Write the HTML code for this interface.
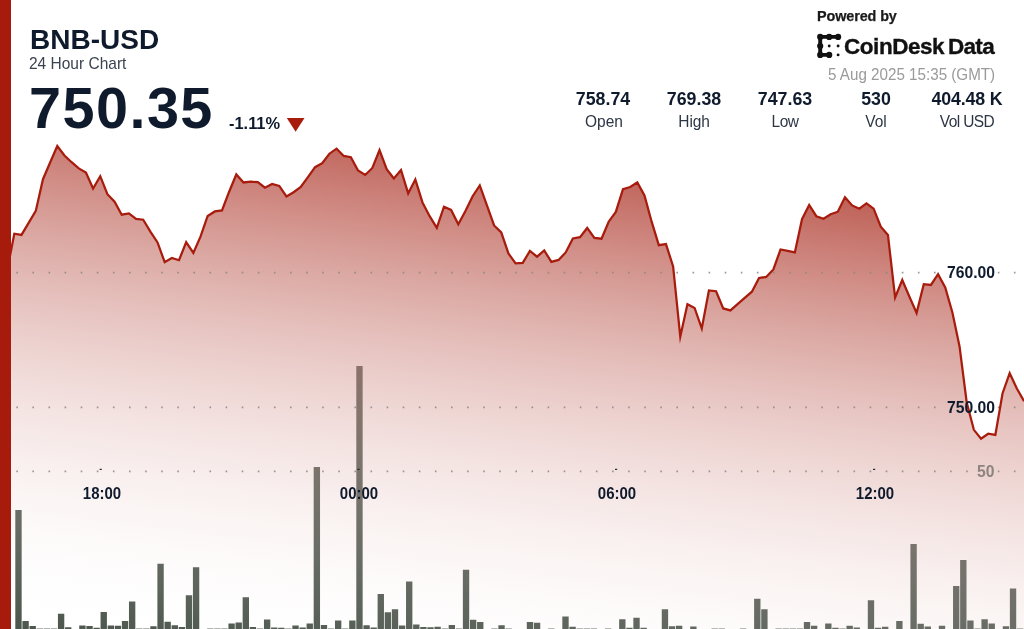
<!DOCTYPE html>
<html><head><meta charset="utf-8"><title>BNB-USD 24 Hour Chart</title>
<style>
html,body{margin:0;padding:0;background:#fff;}
body{width:1024px;height:629px;overflow:hidden;position:relative;font-family:"Liberation Sans",sans-serif;}
#chart{position:absolute;left:0;top:0;width:1024px;height:629px;display:block;}
.t{position:absolute;white-space:nowrap;line-height:1;color:#0f1b2d;transform-origin:50% 84.65%;will-change:transform;}
.b{font-weight:bold;}

#leftbar{position:absolute;left:0;top:0;width:10.7px;height:629px;background:#a61b0c;}
</style></head><body>
<svg id="chart" width="1024" height="629" viewBox="0 0 1024 629">
<defs>
<linearGradient id="g" gradientUnits="userSpaceOnUse" x1="512.00" y1="64.00" x2="434.83" y2="681.35">
<stop offset="0" stop-color="rgb(162,28,14)" stop-opacity="0.96"/>
<stop offset="1" stop-color="rgb(255,255,255)" stop-opacity="0"/>
</linearGradient>
</defs>
<g fill="#4c564d">
<rect x="15.31" y="510.00" width="6.35" height="120.00"/>
<rect x="22.41" y="621.00" width="6.35" height="9.00"/>
<rect x="29.52" y="626.00" width="6.35" height="4.00"/>
<rect x="36.62" y="628.55" width="6.35" height="1.45"/>
<rect x="43.72" y="628.55" width="6.35" height="1.45"/>
<rect x="50.83" y="628.55" width="6.35" height="1.45"/>
<rect x="57.93" y="613.75" width="6.35" height="16.25"/>
<rect x="65.04" y="627.25" width="6.35" height="2.75"/>
<rect x="79.24" y="625.50" width="6.35" height="4.50"/>
<rect x="86.35" y="626.00" width="6.35" height="4.00"/>
<rect x="93.45" y="627.75" width="6.35" height="2.25"/>
<rect x="100.56" y="612.00" width="6.35" height="18.00"/>
<rect x="107.66" y="625.50" width="6.35" height="4.50"/>
<rect x="114.76" y="625.75" width="6.35" height="4.25"/>
<rect x="121.87" y="621.00" width="6.35" height="9.00"/>
<rect x="128.97" y="601.50" width="6.35" height="28.50"/>
<rect x="136.08" y="628.55" width="6.35" height="1.45"/>
<rect x="143.18" y="628.55" width="6.35" height="1.45"/>
<rect x="150.28" y="626.25" width="6.35" height="3.75"/>
<rect x="157.39" y="563.75" width="6.35" height="66.25"/>
<rect x="164.49" y="621.75" width="6.35" height="8.25"/>
<rect x="171.60" y="625.25" width="6.35" height="4.75"/>
<rect x="178.70" y="627.00" width="6.35" height="3.00"/>
<rect x="185.80" y="595.25" width="6.35" height="34.75"/>
<rect x="192.91" y="567.25" width="6.35" height="62.75"/>
<rect x="207.12" y="628.55" width="6.35" height="1.45"/>
<rect x="214.22" y="628.55" width="6.35" height="1.45"/>
<rect x="221.32" y="628.55" width="6.35" height="1.45"/>
<rect x="228.43" y="623.50" width="6.35" height="6.50"/>
<rect x="235.53" y="622.50" width="6.35" height="7.50"/>
<rect x="242.64" y="597.25" width="6.35" height="32.75"/>
<rect x="249.74" y="627.00" width="6.35" height="3.00"/>
<rect x="256.84" y="628.55" width="6.35" height="1.45"/>
<rect x="263.95" y="619.50" width="6.35" height="10.50"/>
<rect x="271.05" y="627.50" width="6.35" height="2.50"/>
<rect x="278.16" y="627.75" width="6.35" height="2.25"/>
<rect x="285.26" y="628.55" width="6.35" height="1.45"/>
<rect x="292.36" y="625.50" width="6.35" height="4.50"/>
<rect x="299.47" y="627.50" width="6.35" height="2.50"/>
<rect x="306.57" y="623.50" width="6.35" height="6.50"/>
<rect x="313.68" y="467.00" width="6.35" height="163.00"/>
<rect x="320.78" y="625.00" width="6.35" height="5.00"/>
<rect x="327.88" y="628.55" width="6.35" height="1.45"/>
<rect x="334.99" y="620.50" width="6.35" height="9.50"/>
<rect x="342.09" y="628.55" width="6.35" height="1.45"/>
<rect x="349.20" y="620.50" width="6.35" height="9.50"/>
<rect x="356.30" y="366.00" width="6.35" height="264.00"/>
<rect x="363.40" y="625.25" width="6.35" height="4.75"/>
<rect x="370.51" y="627.50" width="6.35" height="2.50"/>
<rect x="377.61" y="594.00" width="6.35" height="36.00"/>
<rect x="384.72" y="612.25" width="6.35" height="17.75"/>
<rect x="391.82" y="609.25" width="6.35" height="20.75"/>
<rect x="398.92" y="625.50" width="6.35" height="4.50"/>
<rect x="406.03" y="581.50" width="6.35" height="48.50"/>
<rect x="413.13" y="624.50" width="6.35" height="5.50"/>
<rect x="420.24" y="627.00" width="6.35" height="3.00"/>
<rect x="427.34" y="627.25" width="6.35" height="2.75"/>
<rect x="434.44" y="626.75" width="6.35" height="3.25"/>
<rect x="441.55" y="628.55" width="6.35" height="1.45"/>
<rect x="448.65" y="625.00" width="6.35" height="5.00"/>
<rect x="455.76" y="628.55" width="6.35" height="1.45"/>
<rect x="462.86" y="569.75" width="6.35" height="60.25"/>
<rect x="469.96" y="619.75" width="6.35" height="10.25"/>
<rect x="477.07" y="622.00" width="6.35" height="8.00"/>
<rect x="491.28" y="628.55" width="6.35" height="1.45"/>
<rect x="498.38" y="625.25" width="6.35" height="4.75"/>
<rect x="505.48" y="628.55" width="6.35" height="1.45"/>
<rect x="526.80" y="622.00" width="6.35" height="8.00"/>
<rect x="533.90" y="622.75" width="6.35" height="7.25"/>
<rect x="548.11" y="628.55" width="6.35" height="1.45"/>
<rect x="562.32" y="616.50" width="6.35" height="13.50"/>
<rect x="569.42" y="626.75" width="6.35" height="3.25"/>
<rect x="576.52" y="628.55" width="6.35" height="1.45"/>
<rect x="583.63" y="628.55" width="6.35" height="1.45"/>
<rect x="590.73" y="628.55" width="6.35" height="1.45"/>
<rect x="604.94" y="628.55" width="6.35" height="1.45"/>
<rect x="619.15" y="619.25" width="6.35" height="10.75"/>
<rect x="626.25" y="627.75" width="6.35" height="2.25"/>
<rect x="633.36" y="617.75" width="6.35" height="12.25"/>
<rect x="640.46" y="627.75" width="6.35" height="2.25"/>
<rect x="661.77" y="609.25" width="6.35" height="20.75"/>
<rect x="668.88" y="626.25" width="6.35" height="3.75"/>
<rect x="675.98" y="625.75" width="6.35" height="4.25"/>
<rect x="690.19" y="626.50" width="6.35" height="3.50"/>
<rect x="711.50" y="628.55" width="6.35" height="1.45"/>
<rect x="718.60" y="628.55" width="6.35" height="1.45"/>
<rect x="739.92" y="628.55" width="6.35" height="1.45"/>
<rect x="754.12" y="598.75" width="6.35" height="31.25"/>
<rect x="761.23" y="609.25" width="6.35" height="20.75"/>
<rect x="775.44" y="628.55" width="6.35" height="1.45"/>
<rect x="782.54" y="628.55" width="6.35" height="1.45"/>
<rect x="789.64" y="628.55" width="6.35" height="1.45"/>
<rect x="796.75" y="628.55" width="6.35" height="1.45"/>
<rect x="803.85" y="622.00" width="6.35" height="8.00"/>
<rect x="810.96" y="625.75" width="6.35" height="4.25"/>
<rect x="825.16" y="623.50" width="6.35" height="6.50"/>
<rect x="832.27" y="627.75" width="6.35" height="2.25"/>
<rect x="839.37" y="628.55" width="6.35" height="1.45"/>
<rect x="846.48" y="625.75" width="6.35" height="4.25"/>
<rect x="853.58" y="627.50" width="6.35" height="2.50"/>
<rect x="867.79" y="600.25" width="6.35" height="29.75"/>
<rect x="874.89" y="627.75" width="6.35" height="2.25"/>
<rect x="882.00" y="626.75" width="6.35" height="3.25"/>
<rect x="896.20" y="621.00" width="6.35" height="9.00"/>
<rect x="910.41" y="544.00" width="6.35" height="86.00"/>
<rect x="917.52" y="623.75" width="6.35" height="6.25"/>
<rect x="924.62" y="626.50" width="6.35" height="3.50"/>
<rect x="938.83" y="625.75" width="6.35" height="4.25"/>
<rect x="953.04" y="586.00" width="6.35" height="44.00"/>
<rect x="960.14" y="560.00" width="6.35" height="70.00"/>
<rect x="967.24" y="620.50" width="6.35" height="9.50"/>
<rect x="974.35" y="628.55" width="6.35" height="1.45"/>
<rect x="981.45" y="619.25" width="6.35" height="10.75"/>
<rect x="988.56" y="623.50" width="6.35" height="6.50"/>
<rect x="1002.76" y="626.25" width="6.35" height="3.75"/>
<rect x="1009.87" y="588.50" width="6.35" height="41.50"/>
<rect x="1016.97" y="628.55" width="6.35" height="1.45"/>
</g>
<path d="M0.00,274.45 L7.16,270.45 L14.32,233.70 L21.48,234.95 L28.64,222.95 L35.80,210.95 L42.97,179.20 L50.13,162.45 L57.29,145.95 L64.45,155.45 L71.61,162.20 L78.77,168.45 L85.93,172.45 L93.09,188.45 L100.25,176.20 L107.41,194.20 L114.57,201.70 L121.73,214.70 L128.90,213.45 L136.06,218.95 L143.22,219.70 L150.38,231.70 L157.54,242.45 L164.70,262.20 L171.86,257.95 L179.02,260.20 L186.18,242.20 L193.34,252.95 L200.50,236.70 L207.66,215.95 L214.83,211.45 L221.99,210.45 L229.15,191.70 L236.31,174.45 L243.47,182.45 L250.63,181.70 L257.79,182.20 L264.95,187.70 L272.11,183.95 L279.27,185.95 L286.43,196.45 L293.59,192.20 L300.76,186.95 L307.92,177.20 L315.08,167.20 L322.24,163.20 L329.40,153.70 L336.56,148.70 L343.72,155.95 L350.88,157.20 L358.04,170.45 L365.20,174.95 L372.36,167.95 L379.52,150.20 L386.69,169.20 L393.85,178.45 L401.01,169.95 L408.17,193.45 L415.33,179.45 L422.49,202.45 L429.65,216.20 L436.81,227.95 L443.97,206.70 L451.13,209.95 L458.29,224.20 L465.45,210.95 L472.62,196.20 L479.78,185.45 L486.94,205.45 L494.10,225.45 L501.26,232.45 L508.42,253.45 L515.58,263.45 L522.74,262.95 L529.90,250.95 L537.06,256.70 L544.22,250.45 L551.38,261.95 L558.55,259.95 L565.71,252.45 L572.87,238.45 L580.03,237.20 L587.19,227.95 L594.35,237.95 L601.51,238.70 L608.67,221.70 L615.83,211.95 L622.99,189.20 L630.15,186.95 L637.31,182.45 L644.48,195.45 L651.64,221.70 L658.80,245.20 L665.96,244.05 L673.12,266.45 L680.28,336.70 L687.44,304.20 L694.60,307.95 L701.76,328.45 L708.92,290.45 L716.08,291.20 L723.24,308.45 L730.41,310.45 L737.57,304.20 L744.73,297.95 L751.89,291.70 L759.05,277.95 L766.21,276.95 L773.37,269.45 L780.53,249.45 L787.69,250.95 L794.85,252.45 L802.01,219.20 L809.17,204.95 L816.34,216.20 L823.50,218.70 L830.66,214.20 L837.82,211.70 L844.98,197.20 L852.14,205.45 L859.30,208.70 L866.46,203.45 L873.62,208.70 L880.78,226.70 L887.94,234.95 L895.10,297.45 L902.27,279.95 L909.43,296.70 L916.59,312.95 L923.75,284.20 L930.91,284.95 L938.07,274.20 L945.23,287.45 L952.39,312.45 L959.55,346.45 L966.71,402.45 L973.87,429.85 L981.03,438.75 L988.20,433.75 L995.36,434.95 L1002.52,393.45 L1009.68,373.15 L1016.84,388.45 L1024.00,401.15 L1024,629 L0,629 Z" fill="url(#g)"/>
<g stroke="#8c8684" stroke-opacity="0.85" stroke-width="1.9" stroke-dasharray="1.6 14.5" fill="none">
<path d="M0.2,272.6 H946"/><path d="M997.8,272.6 H1024"/>
<path d="M0.2,407.4 H946"/><path d="M997.8,407.4 H1024"/>
<path d="M0.2,471.4 H969"/><path d="M997.8,471.4 H1024"/>
</g>
<path d="M0.00,274.45 L7.16,270.45 L14.32,233.70 L21.48,234.95 L28.64,222.95 L35.80,210.95 L42.97,179.20 L50.13,162.45 L57.29,145.95 L64.45,155.45 L71.61,162.20 L78.77,168.45 L85.93,172.45 L93.09,188.45 L100.25,176.20 L107.41,194.20 L114.57,201.70 L121.73,214.70 L128.90,213.45 L136.06,218.95 L143.22,219.70 L150.38,231.70 L157.54,242.45 L164.70,262.20 L171.86,257.95 L179.02,260.20 L186.18,242.20 L193.34,252.95 L200.50,236.70 L207.66,215.95 L214.83,211.45 L221.99,210.45 L229.15,191.70 L236.31,174.45 L243.47,182.45 L250.63,181.70 L257.79,182.20 L264.95,187.70 L272.11,183.95 L279.27,185.95 L286.43,196.45 L293.59,192.20 L300.76,186.95 L307.92,177.20 L315.08,167.20 L322.24,163.20 L329.40,153.70 L336.56,148.70 L343.72,155.95 L350.88,157.20 L358.04,170.45 L365.20,174.95 L372.36,167.95 L379.52,150.20 L386.69,169.20 L393.85,178.45 L401.01,169.95 L408.17,193.45 L415.33,179.45 L422.49,202.45 L429.65,216.20 L436.81,227.95 L443.97,206.70 L451.13,209.95 L458.29,224.20 L465.45,210.95 L472.62,196.20 L479.78,185.45 L486.94,205.45 L494.10,225.45 L501.26,232.45 L508.42,253.45 L515.58,263.45 L522.74,262.95 L529.90,250.95 L537.06,256.70 L544.22,250.45 L551.38,261.95 L558.55,259.95 L565.71,252.45 L572.87,238.45 L580.03,237.20 L587.19,227.95 L594.35,237.95 L601.51,238.70 L608.67,221.70 L615.83,211.95 L622.99,189.20 L630.15,186.95 L637.31,182.45 L644.48,195.45 L651.64,221.70 L658.80,245.20 L665.96,244.05 L673.12,266.45 L680.28,336.70 L687.44,304.20 L694.60,307.95 L701.76,328.45 L708.92,290.45 L716.08,291.20 L723.24,308.45 L730.41,310.45 L737.57,304.20 L744.73,297.95 L751.89,291.70 L759.05,277.95 L766.21,276.95 L773.37,269.45 L780.53,249.45 L787.69,250.95 L794.85,252.45 L802.01,219.20 L809.17,204.95 L816.34,216.20 L823.50,218.70 L830.66,214.20 L837.82,211.70 L844.98,197.20 L852.14,205.45 L859.30,208.70 L866.46,203.45 L873.62,208.70 L880.78,226.70 L887.94,234.95 L895.10,297.45 L902.27,279.95 L909.43,296.70 L916.59,312.95 L923.75,284.20 L930.91,284.95 L938.07,274.20 L945.23,287.45 L952.39,312.45 L959.55,346.45 L966.71,402.45 L973.87,429.85 L981.03,438.75 L988.20,433.75 L995.36,434.95 L1002.52,393.45 L1009.68,373.15 L1016.84,388.45 L1024.00,401.15" fill="none" stroke="#a81c0d" stroke-width="2.25" stroke-linejoin="miter" stroke-miterlimit="12"/>
<g fill="#0f1b2d">
<rect x="99.6" y="468.8" width="2.2" height="1.1"/><rect x="357.4" y="468.8" width="2.2" height="1.1"/><rect x="615" y="468.8" width="2.2" height="1.1"/><rect x="873" y="468.8" width="2.2" height="1.1"/>
</g>
<!-- logo -->
<g fill="#111" stroke="#111">
<path d="M838.1,36.9 H820.2 V54.9 H829.2" fill="none" stroke-width="3.9" stroke-linejoin="round"/>
<g stroke="none">
<circle cx="820.2" cy="36.9" r="3.1"/><circle cx="829.2" cy="36.9" r="3.1"/><circle cx="838.1" cy="36.9" r="3.1"/>
<circle cx="820.2" cy="46" r="3.1"/><circle cx="820.2" cy="54.9" r="3.1"/><circle cx="829.2" cy="54.9" r="3.1"/>
<circle cx="829.2" cy="46" r="1.45"/><circle cx="838.1" cy="46" r="1.45"/><circle cx="838.1" cy="54.9" r="1.45"/>
</g>
</g>
</svg>
<div id="leftbar"></div>

<div class="t b" style="top:26.10px;font-size:28px;color:#0f1b2d;left:30.0px;">BNB-USD</div>
<div class="t" style="top:55.68px;font-size:15.5px;color:#3a4350;left:29.2px;transform:scaleY(1.11);">24 Hour Chart</div>
<div class="t b" style="top:79.74px;font-size:57.6px;color:#0f1b2d;letter-spacing:1.45px;left:28.9px;">750.35</div>
<div class="t b" style="top:114.82px;font-size:16.4px;color:#0f1b2d;left:228.5px;">-1.11%</div>
<div class="t b" style="top:9.41px;font-size:14.4px;color:#1a1a1a;letter-spacing:-0.1px;left:817px;-webkit-text-stroke:0.25px #1a1a1a;">Powered by</div>
<div class="t b" style="top:35.55px;font-size:22.5px;color:#111;letter-spacing:-0.45px;left:844.0px;-webkit-text-stroke:0.35px #111;">CoinDesk</div>
<div class="t b" style="top:35.55px;font-size:22.5px;color:#111;letter-spacing:-0.7px;left:948.1px;-webkit-text-stroke:0.35px #111;">Data</div>
<div class="t" style="top:67.00px;font-size:15.2px;color:#9a9a9a;left:828px;transform:scaleY(1.1);">5 Aug 2025 15:35 (GMT)</div>
<div class="t b" style="top:90.83px;font-size:17.8px;color:#0f1b2d;left:603.2px;transform:translateX(-50%);">758.74</div>
<div class="t" style="top:113.98px;font-size:15.5px;color:#2c3644;left:603.5px;transform:translateX(-50%) scaleY(1.09);">Open</div>
<div class="t b" style="top:90.83px;font-size:17.8px;color:#0f1b2d;left:693.8px;transform:translateX(-50%);">769.38</div>
<div class="t" style="top:113.98px;font-size:15.5px;color:#2c3644;letter-spacing:-0.15px;left:694.0999999999999px;transform:translateX(-50%) scaleY(1.09);">High</div>
<div class="t b" style="top:90.83px;font-size:17.8px;color:#0f1b2d;left:784.5px;transform:translateX(-50%);">747.63</div>
<div class="t" style="top:113.98px;font-size:15.5px;color:#2c3644;letter-spacing:-0.5px;left:784.8px;transform:translateX(-50%) scaleY(1.09);">Low</div>
<div class="t b" style="top:90.83px;font-size:17.8px;color:#0f1b2d;left:876px;transform:translateX(-50%);">530</div>
<div class="t" style="top:113.98px;font-size:15.5px;color:#2c3644;left:876.3px;transform:translateX(-50%) scaleY(1.09);">Vol</div>
<div class="t b" style="top:90.83px;font-size:17.8px;color:#0f1b2d;letter-spacing:-0.15px;left:966.7px;transform:translateX(-50%);">404.48 K</div>
<div class="t" style="top:113.98px;font-size:15.5px;color:#2c3644;letter-spacing:-0.6px;left:967.0px;transform:translateX(-50%) scaleY(1.09);">Vol USD</div>
<div class="t b" style="top:264.81px;font-size:15.7px;color:#0f1b2d;right:29.5px;transform:scaleY(1.1);">760.00</div>
<div class="t b" style="top:399.81px;font-size:15.7px;color:#0f1b2d;right:29.5px;transform:scaleY(1.1);">750.00</div>
<div class="t b" style="top:463.81px;font-size:15.7px;color:#8d837f;right:29.5px;transform:scaleY(1.07);">50</div>
<div class="t b" style="top:486.00px;font-size:15px;color:#0f1b2d;left:102px;transform:translateX(-50%) scaleY(1.13);">18:00</div>
<div class="t b" style="top:486.00px;font-size:15px;color:#0f1b2d;left:359.3px;transform:translateX(-50%) scaleY(1.13);">00:00</div>
<div class="t b" style="top:486.00px;font-size:15px;color:#0f1b2d;left:616.8px;transform:translateX(-50%) scaleY(1.13);">06:00</div>
<div class="t b" style="top:486.00px;font-size:15px;color:#0f1b2d;left:874.8px;transform:translateX(-50%) scaleY(1.13);">12:00</div>
<svg style="position:absolute;left:286px;top:116.6px" width="20" height="16" viewBox="0 0 20 16"><path d="M0.8,1 H18.5 L9.6,14.8 Z" fill="#a81c0d"/></svg>
</body></html>
